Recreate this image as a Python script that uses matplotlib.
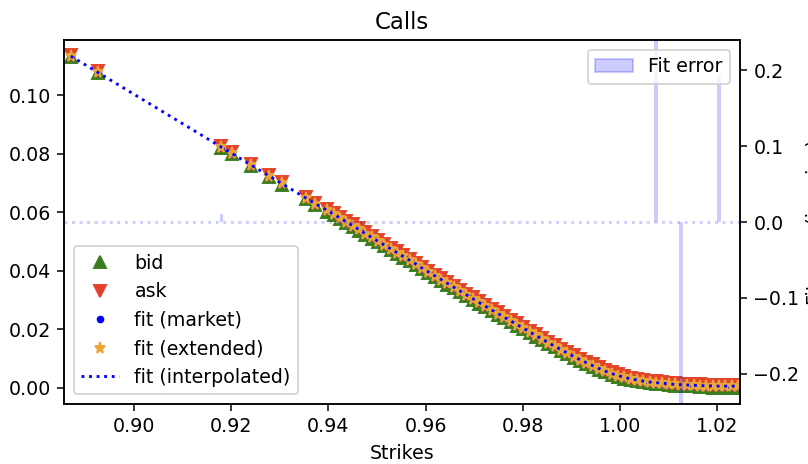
import matplotlib
matplotlib.use("Agg")
from matplotlib import pyplot as plt
from matplotlib.patches import Patch

# strikes and quotes
strikes = [0.8870, 0.8925, 0.9180, 0.9201, 0.9241, 0.9278, 0.9304, 0.9354, 0.9373,
           0.9398, 0.9411, 0.9424, 0.9437, 0.9450, 0.9463, 0.9476, 0.9489, 0.9502, 0.9515,
           0.9528, 0.9541, 0.9554, 0.9567, 0.9580, 0.9593, 0.9606, 0.9619, 0.9632, 0.9645,
           0.9658, 0.9671, 0.9684, 0.9697, 0.9710, 0.9723, 0.9736, 0.9749, 0.9762, 0.9775,
           0.9788, 0.9801, 0.9814, 0.9827, 0.9840, 0.9853, 0.9866, 0.9879, 0.9892, 0.9905,
           0.9918, 0.9931, 0.9944, 0.9957, 0.9970, 0.9983, 0.9996, 1.0009, 1.0022, 1.0035,
           1.0048, 1.0061, 1.0074, 1.0087, 1.0100, 1.0113, 1.0126, 1.0139, 1.0152, 1.0165,
           1.0178, 1.0191, 1.0204, 1.0217, 1.0230, 1.0243]

fit = [0.1133, 0.1078, 0.0822, 0.0801, 0.0761, 0.0724, 0.0698, 0.0648, 0.0629,
       0.0606, 0.0593, 0.0580, 0.0567, 0.0554, 0.0541, 0.0527, 0.0514, 0.0501, 0.0488,
       0.0475, 0.0462, 0.0449, 0.0436, 0.0423, 0.0409, 0.0396, 0.0383, 0.0370, 0.0357,
       0.0344, 0.0331, 0.0318, 0.0305, 0.0292, 0.0279, 0.0266, 0.0254, 0.0241, 0.0229,
       0.0216, 0.0204, 0.0191, 0.0179, 0.0166, 0.0154, 0.0142, 0.0130, 0.0119, 0.0107,
       0.0096, 0.0086, 0.0076, 0.0066, 0.0057, 0.0049, 0.0042, 0.0036, 0.0031, 0.0027,
       0.0023, 0.0020, 0.0018, 0.0016, 0.0014, 0.0012, 0.0011, 0.0010, 0.0009, 0.0008,
       0.0007, 0.0007, 0.0006, 0.0006, 0.0006, 0.0006]

bid = [0.1129, 0.1074, 0.0818, 0.0797, 0.0757, 0.0720, 0.0694, 0.0644, 0.0625,
       0.0602, 0.0589, 0.0576, 0.0563, 0.0550, 0.0537, 0.0523, 0.0510, 0.0497, 0.0484,
       0.0471, 0.0458, 0.0445, 0.0432, 0.0419, 0.0405, 0.0392, 0.0379, 0.0366, 0.0353,
       0.0340, 0.0327, 0.0314, 0.0301, 0.0288, 0.0275, 0.0262, 0.0250, 0.0237, 0.0225,
       0.0212, 0.0200, 0.0187, 0.0175, 0.0162, 0.0150, 0.0138, 0.0126, 0.0115, 0.0103,
       0.0092, 0.0082, 0.0072, 0.0062, 0.0053, 0.0045, 0.0038, 0.0032, 0.0027, 0.0023,
       0.0019, 0.0016, 0.0014, 0.0012, 0.0010, 0.0008, 0.0007, 0.0006, 0.0005, 0.0004,
       0.0002, 0.0001, 0.0001, 0.0001, 0.0001, 0.0001]

ask = [0.1137, 0.1082, 0.0826, 0.0805, 0.0765, 0.0728, 0.0702, 0.0652, 0.0633,
       0.0610, 0.0597, 0.0584, 0.0571, 0.0558, 0.0545, 0.0531, 0.0518, 0.0505, 0.0492,
       0.0479, 0.0466, 0.0453, 0.0440, 0.0427, 0.0413, 0.0400, 0.0387, 0.0374, 0.0361,
       0.0348, 0.0335, 0.0322, 0.0309, 0.0296, 0.0283, 0.0270, 0.0258, 0.0245, 0.0233,
       0.0220, 0.0208, 0.0195, 0.0183, 0.0170, 0.0158, 0.0146, 0.0134, 0.0123, 0.0111,
       0.0100, 0.0090, 0.0080, 0.0070, 0.0061, 0.0053, 0.0046, 0.0040, 0.0035, 0.0031,
       0.0027, 0.0024, 0.0022, 0.0020, 0.0018, 0.0016, 0.0015, 0.0014, 0.0013, 0.0012,
       0.0011, 0.0011, 0.0010, 0.0010, 0.0010, 0.0010]

# fit error, only non zero strikes
err_strikes = [0.9180, 1.0074, 1.0126, 1.0204]
err_values = [0.011, 0.30, -0.30, 0.194]

fig = plt.figure(figsize=(808 / 137, 464 / 137), dpi=137)
ax = fig.add_axes([0.0792, 0.1293, 0.8366, 0.7845])

ax.plot(strikes, bid, '^', color='#3a7d1e', label='bid')
ax.plot(strikes, ask, 'v', color='#e2432a', label='ask')
ax.plot(strikes, fit, '.', color='b', label='fit (market)')
ax.plot(strikes, fit, '*', color='#eba63a', label='fit (extended)')
ax.plot(strikes, fit, ':', color='b', label='fit (interpolated)')

ax.set_xlim(0.8856, 1.0247)
ax.set_ylim(-0.0055, 0.1188)
ax.set_xlabel('Strikes')
ax.set_title('Calls')
ax.legend(loc='lower left')

ax2 = ax.twinx()
ax2.bar(err_strikes, err_values, width=0.0008, color='b', alpha=0.2)
ax2.axhline(0, color='b', linestyle=':', alpha=0.2)
ax2.set_ylim(-0.24, 0.24)
# label sits past the right edge, only a sliver shows
ax2.set_ylabel('Fit error (in price)')
ax2.yaxis.set_label_coords(1.097, 0.5)
ax2.legend(handles=[Patch(color='b', alpha=0.2, label='Fit error')], loc='upper right')

plt.savefig('out.png', dpi=137)
